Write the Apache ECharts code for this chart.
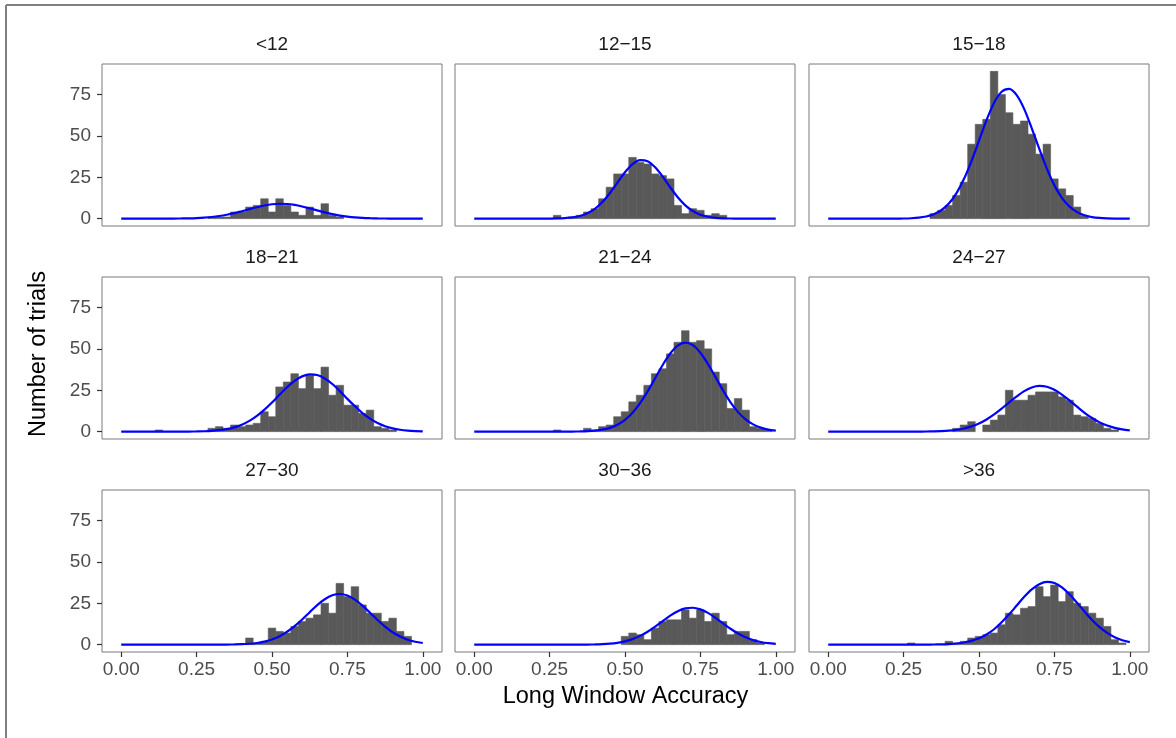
<!DOCTYPE html>
<html>
<head>
<meta charset="utf-8">
<script src="https://cdn.jsdelivr.net/npm/echarts@6/dist/echarts.min.js"></script>
<style>
  html, body { margin: 0; padding: 0; background: #fff; }
  #chart { width: 1176px; height: 738px; }
</style>
</head>
<body>
<div id="chart"></div>
<script>
// Facet labels (age groups), in reading order
const panelNames = ['<12', '12\u221215', '15\u221218', '18\u221221', '21\u221224', '24\u221227', '27\u221230', '30\u221236', '>36'];

// Histogram bins: width 0.025, bin k centred on k * 0.025 (k = 0..40)
const binWidth = 0.025;

// Trial counts per bin, one array per facet
const countsLt12 = [
  0,0,0,0,0,0,0,0,0,0,
  0,0,1,1,1,4,4,7,8,12,
  4,12,8,4,2,7,2,9,2,1,
  0,0,0,0,0,0,0,0,0,0,
  0];
const counts12to15 = [
  0,0,0,0,0,0,0,0,0,0,
  0,2,0,1,2,4,6,12,19,27,
  27,37,34,33,27,26,24,8,3,6,
  5,2,3,2,0,0,0,0,0,0,
  0];
const counts15to18 = [
  0,0,0,0,0,0,0,0,0,0,
  0,0,0,0,3,5,8,14,22,45,
  57,60,89,75,64,57,59,51,39,45,
  24,18,14,7,2,0,0,0,0,0,
  0];
const counts18to21 = [
  0,0,0,0,0,1,0,0,0,0,
  0,0,2,3,2,4,3,4,5,12,
  9,27,30,35,26,34,26,39,22,28,
  16,16,11,13,3,2,1,0,0,0,
  0];
const counts21to24 = [
  0,0,0,0,0,0,0,0,0,0,
  0,1,0,0,0,2,1,3,4,9,
  12,18,22,28,35,38,47,54,61,54,
  55,50,36,29,14,20,13,3,2,1,
  0];
const counts24to27 = [
  0,0,0,0,0,0,0,0,0,0,
  0,0,0,0,0,0,0,2,4,6,
  0,4,7,10,25,19,19,22,24,24,
  24,21,19,10,9,8,5,2,1,0,
  0];
const counts27to30 = [
  0,0,0,0,0,0,0,0,0,0,
  0,0,0,0,0,0,0,4,1,2,
  10,8,7,11,14,16,18,25,19,37,
  29,35,24,19,19,14,16,8,5,0,
  0];
const counts30to36 = [
  0,0,0,0,0,0,0,0,0,0,
  0,0,0,0,0,0,0,0,0,0,
  5,7,6,3,10,14,15,15,21,16,
  21,14,19,14,6,8,8,3,1,0,
  0];
const countsGt36 = [
  0,0,0,0,0,0,0,0,0,0,
  0,1,0,0,0,0,2,1,2,4,
  5,6,7,12,19,18,22,23,35,29,
  36,26,32,25,23,19,16,11,3,1,
  0];

// Fitted normal curves (scaled to counts), sampled every 0.025 from 0 to 1
const curveX = [0, 0.025, 0.05, 0.075, 0.1, 0.125, 0.15, 0.175, 0.2, 0.225,
                0.25, 0.275, 0.3, 0.325, 0.35, 0.375, 0.4, 0.425, 0.45, 0.475,
                0.5, 0.525, 0.55, 0.575, 0.6, 0.625, 0.65, 0.675, 0.7, 0.725,
                0.75, 0.775, 0.8, 0.825, 0.85, 0.875, 0.9, 0.925, 0.95, 0.975, 1];
const curveLt12 = [0,0,0,0,0,0.01,0.02,0.05,0.1,0.19,0.35,0.61,1.0,1.58,2.36,3.33,4.5,5.71,6.9,7.94,
  8.7,8.99,8.85,8.28,7.35,6.2,4.96,3.78,2.73,1.87,1.22,0.75,0.44,0.25,0.13,0.07,0.03,0.02,0.01,0,0];
const curve12to15 = [0,0,0,0,0,0,0,0,0,0.01,0.04,0.11,0.3,0.71,1.58,3.21,5.9,10.0,15.5,21.8,
  28.0,32.9,35.4,34.7,31.0,25.4,18.9,12.9,8.0,4.58,2.38,1.13,0.49,0.19,0.07,0.02,0.01,0,0,0,0];
const curve15to18 = [0,0,0,0,0,0,0,0,0.01,0.03,0.09,0.24,0.57,1.27,2.6,5.08,9.1,15.3,23.9,34.8,
  47.1,59.5,70.0,76.7,78.4,74.6,66.2,54.6,42.1,30.2,20.1,12.6,7.3,3.93,2.0,0.93,0.41,0.17,0.06,0.02,0.01];
const curve18to21 = [0,0,0,0,0,0,0,0.01,0.02,0.05,0.11,0.23,0.46,0.86,1.53,2.6,4.2,6.49,9.5,13.3,
  17.6,22.3,26.8,30.7,33.4,34.65,34.2,32.1,28.8,24.5,19.8,15.3,11.2,7.85,5.2,3.3,2.0,1.14,0.62,0.32,0.16];
const curve21to24 = [0,0,0,0,0,0,0,0,0,0,0,0.01,0.02,0.05,0.11,0.26,0.58,1.19,2.3,4.18,
  7.1,11.4,17.2,24.3,32.3,40.3,47.2,52.0,53.8,52.3,47.7,40.9,33.0,24.9,17.7,11.8,7.4,4.38,2.4,1.26,0.6];
const curve24to27 = [0,0,0,0,0,0,0,0,0,0,0.01,0.01,0.03,0.07,0.16,0.31,0.6,1.11,1.9,3.16,
  4.9,7.34,10.4,13.9,17.7,21.3,24.5,26.7,27.6,27.1,25.3,22.4,18.9,15.1,11.4,8.24,5.6,3.67,2.3,1.33,0.74];
const curve27to30 = [0,0,0,0,0,0,0,0,0,0,0,0,0.01,0.02,0.05,0.12,0.26,0.53,1.0,1.84,
  3.1,5.08,7.8,11.2,15.2,19.6,23.9,27.4,29.8,30.6,29.7,27.2,23.6,19.3,14.9,10.9,7.5,4.9,3.0,1.76,0.97];
const curve30to36 = [0,0,0,0,0,0,0,0,0,0,0,0,0,0.01,0.02,0.06,0.13,0.29,0.58,1.11,
  2.0,3.33,5.3,7.79,10.9,14.2,17.5,20.2,21.9,22.3,21.3,19.2,16.2,12.9,9.6,6.71,4.4,2.73,1.6,0.86,0.44];
const curveGt36 = [0,0,0,0,0,0,0,0,0,0,0,0.01,0.01,0.03,0.07,0.16,0.34,0.67,1.27,2.26,
  3.8,6.16,9.3,13.5,18.3,23.6,28.9,33.4,36.5,37.9,37.2,34.6,30.4,25.3,20.0,14.9,10.6,7.08,4.5,2.69,1.5];

// Tick positions and axis titles
const xTicks = [0, 0.25, 0.5, 0.75, 1];
const yTicks = [0, 25, 50, 75];
const xTitle = 'Long Window Accuracy';
const yTitle = 'Number of trials';

const panelCounts = [countsLt12, counts12to15, counts15to18, counts18to21, counts21to24,
                     counts24to27, counts27to30, counts30to36, countsGt36];
const panelCurves = [curveLt12, curve12to15, curve15to18, curve18to21, curve21to24,
                     curve24to27, curve27to30, curve30to36, curveGt36];

// Facet layout (pixels)
const colLeft = [102, 455, 809];
const rowTop = [64, 277, 490];
const panelW = 340;
const panelH = 162;

const FONT = "'Liberation Sans', Arial, Helvetica, sans-serif";
const barColor = '#595959';
const lineColor = '#0000ff';

// Shared scales with ggplot-style 5% padding
const histLo = -binWidth / 2, histHi = 1 + binWidth / 2;
const xPad = 0.05 * (histHi - histLo);
const xMin = histLo - xPad, xMax = histHi + xPad;
const yTop = Math.max(...panelCounts.map(a => Math.max(...a)));
const yMin = -0.05 * yTop, yMax = yTop * 1.05;

const grids = [], xAxes = [], yAxes = [], series = [], graphics = [];

panelNames.forEach((name, i) => {
  const r = Math.floor(i / 3), c = i % 3;
  grids.push({
    left: colLeft[c], top: rowTop[r], width: panelW, height: panelH,
    show: true, borderColor: '#7a7a7a', borderWidth: 1, backgroundColor: '#fff',
    containLabel: false, outerBoundsMode: 'none'
  });
  xAxes.push({
    gridIndex: i, type: 'value', min: xMin, max: xMax,
    axisLine: { show: false, onZero: false },
    splitLine: { show: false },
    axisTick: { show: r === 2, customValues: xTicks, length: 5, lineStyle: { color: '#333', width: 1.2 } },
    axisLabel: { show: r === 2, customValues: xTicks, formatter: v => v.toFixed(2),
                 color: '#4d4d4d', fontSize: 19, fontFamily: FONT, margin: 8 }
  });
  yAxes.push({
    gridIndex: i, type: 'value', min: yMin, max: yMax,
    axisLine: { show: false, onZero: false },
    splitLine: { show: false },
    axisTick: { show: c === 0, customValues: yTicks, length: 5, lineStyle: { color: '#333', width: 1.2 } },
    axisLabel: { show: c === 0, customValues: yTicks, color: '#4d4d4d', fontSize: 19, fontFamily: FONT, margin: 11 }
  });

  // histogram bars: one rect per bin, from 0 up to the count
  series.push({
    type: 'custom', xAxisIndex: i, yAxisIndex: i, clip: true, z: 2,
    data: panelCounts[i].map((n, k) => [k * binWidth, n]),
    renderItem: function (params, api) {
      const centre = api.value(0), n = api.value(1);
      if (!n) return null;
      const p0 = api.coord([centre - binWidth / 2, n]);
      const p1 = api.coord([centre + binWidth / 2, 0]);
      return {
        type: 'rect',
        shape: { x: p0[0], y: p0[1], width: p1[0] - p0[0], height: p1[1] - p0[1] },
        style: { fill: barColor, stroke: barColor, lineWidth: 0.6 }
      };
    }
  });

  // normal curve overlay
  series.push({
    type: 'line', xAxisIndex: i, yAxisIndex: i, z: 5,
    data: curveX.map((x, k) => [x, panelCurves[i][k]]),
    showSymbol: false, smooth: 0.3, clip: true,
    lineStyle: { color: lineColor, width: 2.2 }
  });

  graphics.push({
    type: 'text', silent: true,
    style: { x: colLeft[c] + panelW / 2, y: rowTop[r] - 19, text: name,
             fill: '#1a1a1a', font: '19px ' + FONT, textAlign: 'center', textVerticalAlign: 'middle' }
  });
});

// axis titles
const plotMidX = (colLeft[0] + colLeft[2] + panelW) / 2;
const plotMidY = (rowTop[0] + rowTop[2] + panelH) / 2;
graphics.push({
  type: 'text', silent: true,
  style: { x: plotMidX, y: 697, text: xTitle, fill: '#000', font: '23.5px ' + FONT,
           textAlign: 'center', textVerticalAlign: 'middle' }
});
graphics.push({
  type: 'text', silent: true, x: 39, y: plotMidY - 4, rotation: Math.PI / 2,
  style: { x: 0, y: 0, text: yTitle, fill: '#000', font: '23.5px ' + FONT,
           textAlign: 'center', textVerticalAlign: 'middle' }
});

// figure frame along the top and left edges
graphics.push({ type: 'line', silent: true, shape: { x1: 6, y1: 5, x2: 1176, y2: 5 },
                style: { stroke: '#808080', lineWidth: 2 } });
graphics.push({ type: 'line', silent: true, shape: { x1: 6, y1: 5, x2: 6, y2: 738 },
                style: { stroke: '#808080', lineWidth: 2 } });

const chart = echarts.init(document.getElementById('chart'), null, { renderer: 'canvas' });
chart.setOption({
  animation: false,
  backgroundColor: '#fff',
  grid: grids,
  xAxis: xAxes,
  yAxis: yAxes,
  series: series,
  graphic: graphics
});
</script>
</body>
</html>
